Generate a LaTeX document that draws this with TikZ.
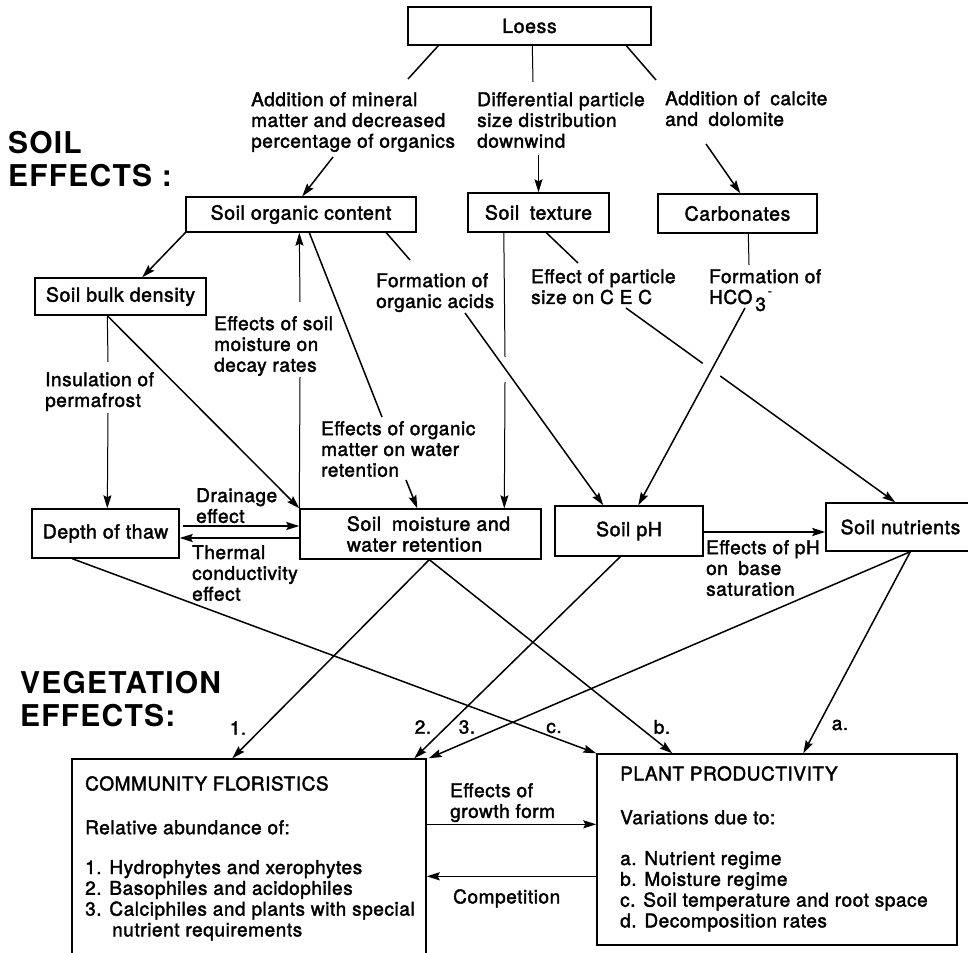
\documentclass[tikz,border=0pt]{standalone}
\usepackage{fontspec}
\setmainfont{TeX Gyre Heros}[LetterSpace=3,FakeBold=2]
\newfontfamily\headfont{TeX Gyre Heros}[LetterSpace=4]
\usetikzlibrary{arrows.meta,calc}
\newcommand{\bodyfnt}{\fontsize{19}{20.8}\selectfont}
\newcommand{\boxfnt}{\fontsize{19.5}{20.8}\selectfont}
\newcommand{\dsp}{\hspace{0.55em}}
\tikzset{
  box/.style={draw, line width=1.4pt, inner sep=0pt, font=\boxfnt},
  lbl/.style={inner sep=0pt, anchor=north west, align=left, font=\bodyfnt},
  tag/.style={inner sep=0pt, anchor=center, font=\bodyfnt},
  head/.style={inner sep=0pt, anchor=north west, align=left, font=\headfont\bfseries\fontsize{30}{33}\selectfont},
  ln/.style={line width=1.5pt},
  thinln/.style={line width=1pt},
  arr/.style={-{Stealth[length=13pt,width=8pt,inset=2pt]}}
}
\begin{document}
\begin{tikzpicture}[x=1pt,y=-1pt]
\clip (0,0) rectangle (968,952);
\fill[white] (0,0) rectangle (968,952);

% headings
\node[head] (soilh) at (8,131) {SOIL\\EFFECTS :};
\node[head] (vegh) at (20,671) {VEGETATION\\EFFECTS:};

% boxes
\node[box, minimum width=243pt, minimum height=38pt] (loess) at (529.5,26) {Loess};
\node[box, minimum width=230pt, minimum height=35pt] (soc) at (301,214.5) {Soil organic content};
\node[box, minimum width=141pt, minimum height=39pt] (tex) at (538.5,212.5) {Soil\dsp texture};
\node[box, minimum width=159pt, minimum height=39pt] (carb) at (737.5,213.5) {Carbonates};
\node[box, minimum width=171pt, minimum height=37pt] (sbd) at (120.5,296.5) {Soil bulk density};
\node[box, minimum width=147pt, minimum height=49pt] (dot) at (105.5,533.5) {Depth of thaw};
\node[box, minimum width=241pt, minimum height=50pt, align=left] (smw) at (420.5,534) {\hspace*{16pt}Soil\dsp moisture and\\\hspace*{16pt}water retention};
\node[box, minimum width=148pt, minimum height=50pt] (ph) at (629,531) {Soil pH};
\node[box, minimum width=149pt, minimum height=48pt] (nut) at (900.5,527) {Soil nutrients};
\node[box, minimum width=354pt, minimum height=211pt] (cf) at (249,864.5) {};
\node[box, minimum width=360pt, minimum height=191pt] (pp) at (777,849.5) {};

% box texts (large boxes)
\node[lbl] (cft) at (85,776) {COMMUNITY FLORISTICS\\[23pt]Relative abundance of:\\[19pt]1. Hydrophytes and xerophytes\\2. Basophiles and acidophiles\\3. Calciphiles and plants with special\\\hspace*{27pt}nutrient requirements};
\node[lbl] (ppt) at (620,766) {PLANT PRODUCTIVITY\\[23pt]Variations due to:\\[20pt]a. Nutrient regime\\b. Moisture regime\\c. Soil temperature and root space\\d. Decomposition rates};

% labels
\node[lbl] (addmin) at (251,92) {Addition of mineral\\matter and decreased\\percentage of organics};
\node[lbl] (diff) at (477,92) {Differential particle\\size distribution\\downwind};
\node[lbl] (calc) at (665,91) {Addition of\dsp calcite\\and\dsp dolomite};
\node[lbl] (formorg) at (376,273) {Formation of\\organic acids};
\node[lbl] (cec) at (531,269) {Effect of particle\\size on C E C};
\node[lbl] (hco) at (709,269) {Formation of\\HCO\hspace{3pt}\raisebox{-7pt}{3}\hspace{2pt}\raisebox{9pt}{\scalebox{0.6}{-}}};
\node[lbl] (effsoil) at (214,316) {Effects of soil\\moisture on\\decay rates};
\node[lbl] (insul) at (45,372) {Insulation of\\permafrost};
\node[lbl] (efforg) at (321,421) {Effects of organic\\matter on water\\retention};
\node[lbl] (drain) at (196,488) {Drainage\\effect};
\node[lbl] (therm) at (192,545) {Thermal\\conductivity\\effect};
\node[lbl] (effph) at (706,540) {Effects of pH\\on\dsp base\\saturation};
\node[lbl] (growth) at (450,783) {Effects of\\growth form};
\node[lbl] (comp) at (453,889) {Competition};
\node[tag] (t1) at (238,728) {1.};
\node[tag] (t2) at (423,727) {2.};
\node[tag] (t3) at (467,727) {3.};
\node[tag] (tc) at (554,728) {c.};
\node[tag] (tb) at (662,727) {b.};
\node[tag] (ta) at (840,725) {a.};

% loess connectors
\coordinate (l1) at (408,79);
\coordinate (l2) at (533,82);
\coordinate (l3) at (656,80);
\draw[ln] ([xshift=31pt]loess.south west) -- (l1);
\draw[thinln] ([xshift=125pt]loess.south west) -- (l2);
\draw[ln] ([xshift=219pt]loess.south west) -- (l3);

\coordinate (a4) at (333,157);
\coordinate (a5) at (538.5,155);
\coordinate (a6) at (706,144);
\draw[ln,arr] (a4) -- ([xshift=117pt]soc.north west);
\draw[thinln,arr] (a5) -- (tex.north);
\draw[ln,arr] (a6) -- ([xshift=83pt]carb.north west);

% soil organic content -> bulk density
\draw[ln,arr] (soc.south west) -- ([xshift=108pt]sbd.north west);

% insulation of permafrost
\coordinate (i1) at (108,362);
\coordinate (i2) at (108,413);
\draw[thinln] ([xshift=73pt]sbd.south west) -- (i1);
\draw[thinln,arr] (i2) -- ([xshift=76pt]dot.north west);
\draw[ln,arr] ([xshift=73pt]sbd.south west) -- (smw.north west);

% decay rates
\coordinate (d1) at (300,377);
\coordinate (d2) at (300,302);
\draw[thinln] (smw.north west) -- (d1);
\draw[thinln,arr] (d2) -- ([xshift=114pt]soc.south west);

% organic matter on water retention
\coordinate (o1) at (382,417);
\coordinate (o2) at (406,480);
\draw[ln] ([xshift=124pt]soc.south west) -- (o1);
\draw[ln,arr] (o2) -- ([xshift=118pt]smw.north west);

% organic acids
\coordinate (f1) at (410,260);
\coordinate (f2) at (465,313);
\draw[ln] ([xshift=201pt]soc.south west) -- (f1);
\draw[ln,arr] (f2) -- ([xshift=49pt]ph.north west);

% texture -> moisture
\coordinate (tx1) at (505,357);
\coordinate (tx2) at (505,382);
\draw[thinln] ([xshift=36.5pt]tex.south west) -- (tx1);
\draw[thinln,arr] (tx2) -- ([xshift=205pt]smw.north west);

% CEC
\coordinate (c1) at (578,263);
\coordinate (c2) at (626,308);
\coordinate (nutT) at ([xshift=70pt]nut.north west);
\draw[ln] ([xshift=79pt]tex.south west) -- (c1);
\draw[ln] (c2) -- ($(c2)!0.285!(nutT)$);
\draw[ln,arr] ($(c2)!0.35!(nutT)$) -- (nutT);

% HCO3
\coordinate (h1) at (749,265);
\coordinate (h2) at (745,308);
\draw[thinln] ([xshift=91pt]carb.south west) -- (h1);
\draw[ln,arr] (h2) -- ([xshift=84pt]ph.north west);

% drainage / thermal
\draw[ln,arr] ([yshift=7.5pt,xshift=3pt]dot.east) -- ([yshift=8pt]smw.west);
\draw[ln,arr] ([yshift=-4pt]smw.west) -- ([yshift=-4.5pt]dot.east);

% pH -> nutrients
\draw[ln,arr] ([yshift=-1pt]ph.east) -- ([yshift=-5pt]nut.west);

% lower connectors
\draw[ln,arr] ([xshift=41pt]dot.south west) -- (pp.north west);
\draw[ln,arr] ([xshift=130pt]smw.south west) -- ([xshift=161pt]cf.north west);
\draw[ln,arr] ([xshift=130pt]smw.south west) -- ([xshift=76pt]pp.north west);
\draw[ln,arr] ([xshift=66pt]ph.south west) -- ([xshift=343pt]cf.north west);
\draw[ln,arr] ([xshift=85pt]nut.south west) -- ([xshift=2pt]cf.north east);
\draw[ln,arr] ([xshift=85pt]nut.south west) -- ([xshift=207pt]pp.north west);

% between vegetation boxes
\draw[ln,arr] ([yshift=-66pt]cf.north east) -- ([yshift=-71pt]pp.north west);
\draw[ln,arr] ([yshift=-123pt]pp.north west) -- ([yshift=-118pt]cf.north east);
\end{tikzpicture}
\end{document}
